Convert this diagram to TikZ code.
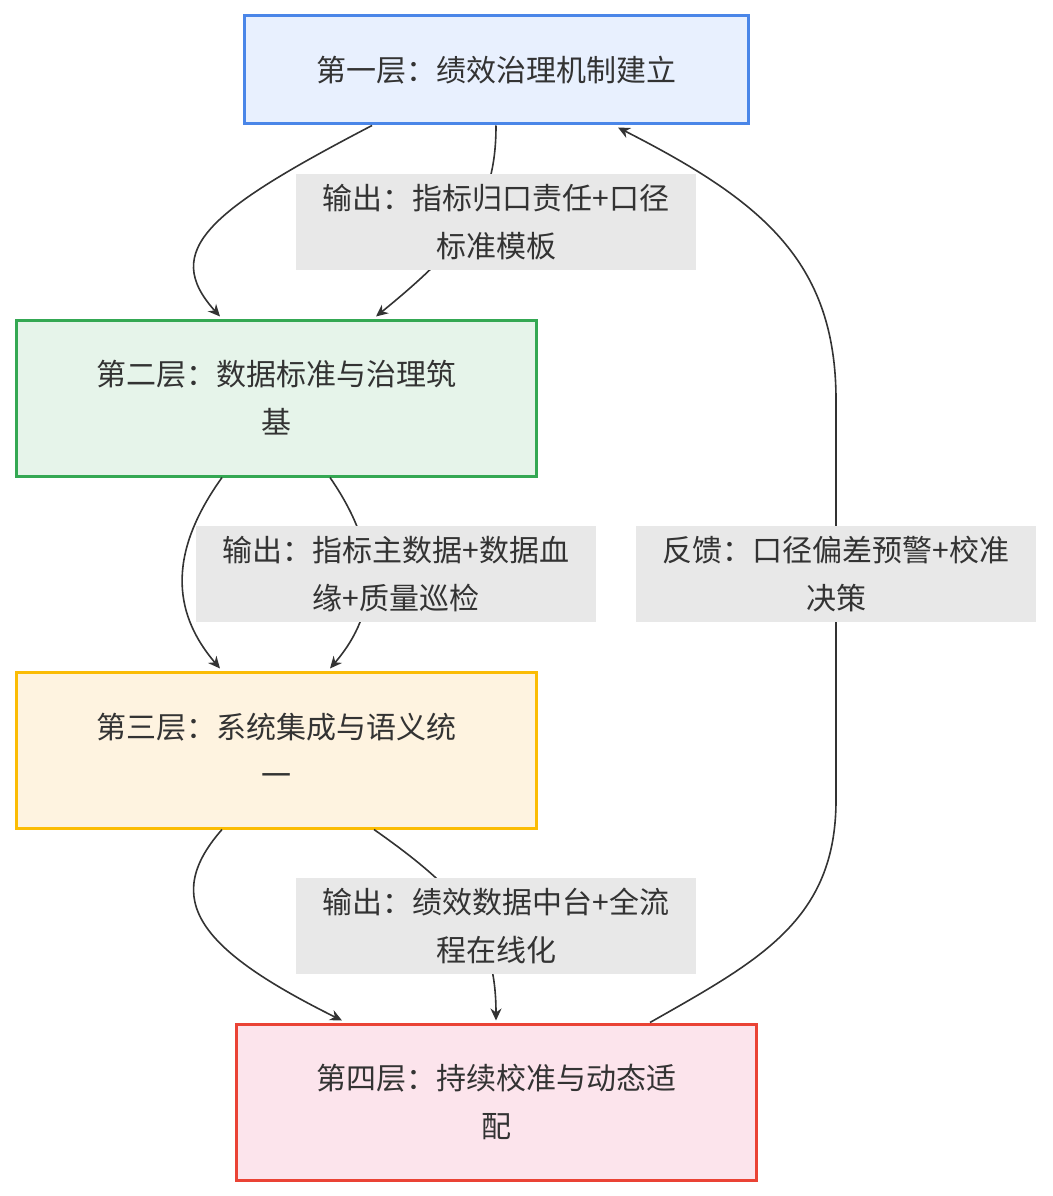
\documentclass[tikz,border=0pt]{standalone}
\usepackage{fontspec}
\setmainfont{Noto Sans CJK SC}
\usetikzlibrary{arrows.meta,calc}
\definecolor{txt}{HTML}{333333}
\definecolor{lblbg}{HTML}{E8E8E8}
\definecolor{blueline}{HTML}{4A86E8}
\definecolor{bluefill}{HTML}{E8F0FE}
\definecolor{greenline}{HTML}{34A853}
\definecolor{greenfill}{HTML}{E6F4EA}
\definecolor{yellowline}{HTML}{FBBC04}
\definecolor{yellowfill}{HTML}{FEF3E0}
\definecolor{redline}{HTML}{EA4335}
\definecolor{redfill}{HTML}{FCE4EC}
\tikzset{
  layer/.style 2 args={draw=#1,fill=#2,line width=3pt,minimum width=520pt,minimum height=156pt,align=center,text=txt,font=\fontsize{30}{48}\selectfont},
  lbl/.style={fill=lblbg,minimum width=400pt,minimum height=96pt,align=center,text=txt,font=\fontsize{30}{48}\selectfont},
  flow/.style={draw=txt,line width=1.6pt,-{Stealth[length=12pt,width=11pt]}}
}
\begin{document}
\begin{tikzpicture}[x=1pt,y=-1pt]
    \useasboundingbox (0,0) rectangle (1052,1196);
    \node[layer={blueline}{bluefill},minimum width=504pt,minimum height=108pt] (l1) at (496,70) {第一层：绩效治理机制建立};
    \node[layer={greenline}{greenfill}] (l2) at (276,398) {第二层：数据标准与治理筑\\基};
    \node[layer={yellowline}{yellowfill}] (l3) at (276,750) {第三层：系统集成与语义统\\一};
    \node[layer={redline}{redfill}] (l4) at (496,1102) {第四层：持续校准与动态适\\配};

    % layer 1 -> layer 2
    \draw[flow] ($(l1.south)+(-124,0)$) .. controls (210,210) and (160,250) .. ($(l2.north)+(-56,-2)$);
    \draw[flow] (l1.south) .. controls (496,200) and (470,240) .. ($(l2.north)+(100,-2)$);
    % layer 2 -> layer 3
    \draw[flow] ($(l2.south)+(-54,0)$) .. controls (170,550) and (170,610) .. ($(l3.north)+(-56,-2)$);
    \draw[flow] ($(l2.south)+(54,0)$) .. controls (380,550) and (380,610) .. ($(l3.north)+(54,-2)$);
    % layer 3 -> layer 4
    \draw[flow] ($(l3.south)+(-54,0)$) .. controls (160,900) and (200,950) .. ($(l4.north)+(-154,-2)$);
    \draw[flow] ($(l3.south)+(98,0)$) .. controls (460,890) and (496,930) .. ($(l4.north)+(0,-2)$);
    % feedback
    \draw[flow] ($(l4.north)+(154,0)$) .. controls (760,960) and (836,920) .. (836,800)
      -- (836,400) .. controls (836,260) and (760,200) .. ($(l1.south)+(122,2)$);

    \node[lbl] (o1) at (496,222) {输出：指标归口责任+口径\\标准模板};
    \node[lbl] (o2) at (396,574) {输出：指标主数据+数据血\\缘+质量巡检};
    \node[lbl] (o3) at (496,926) {输出：绩效数据中台+全流\\程在线化};
    \node[lbl] (fb) at (836,574) {反馈：口径偏差预警+校准\\决策};
\end{tikzpicture}
\end{document}
